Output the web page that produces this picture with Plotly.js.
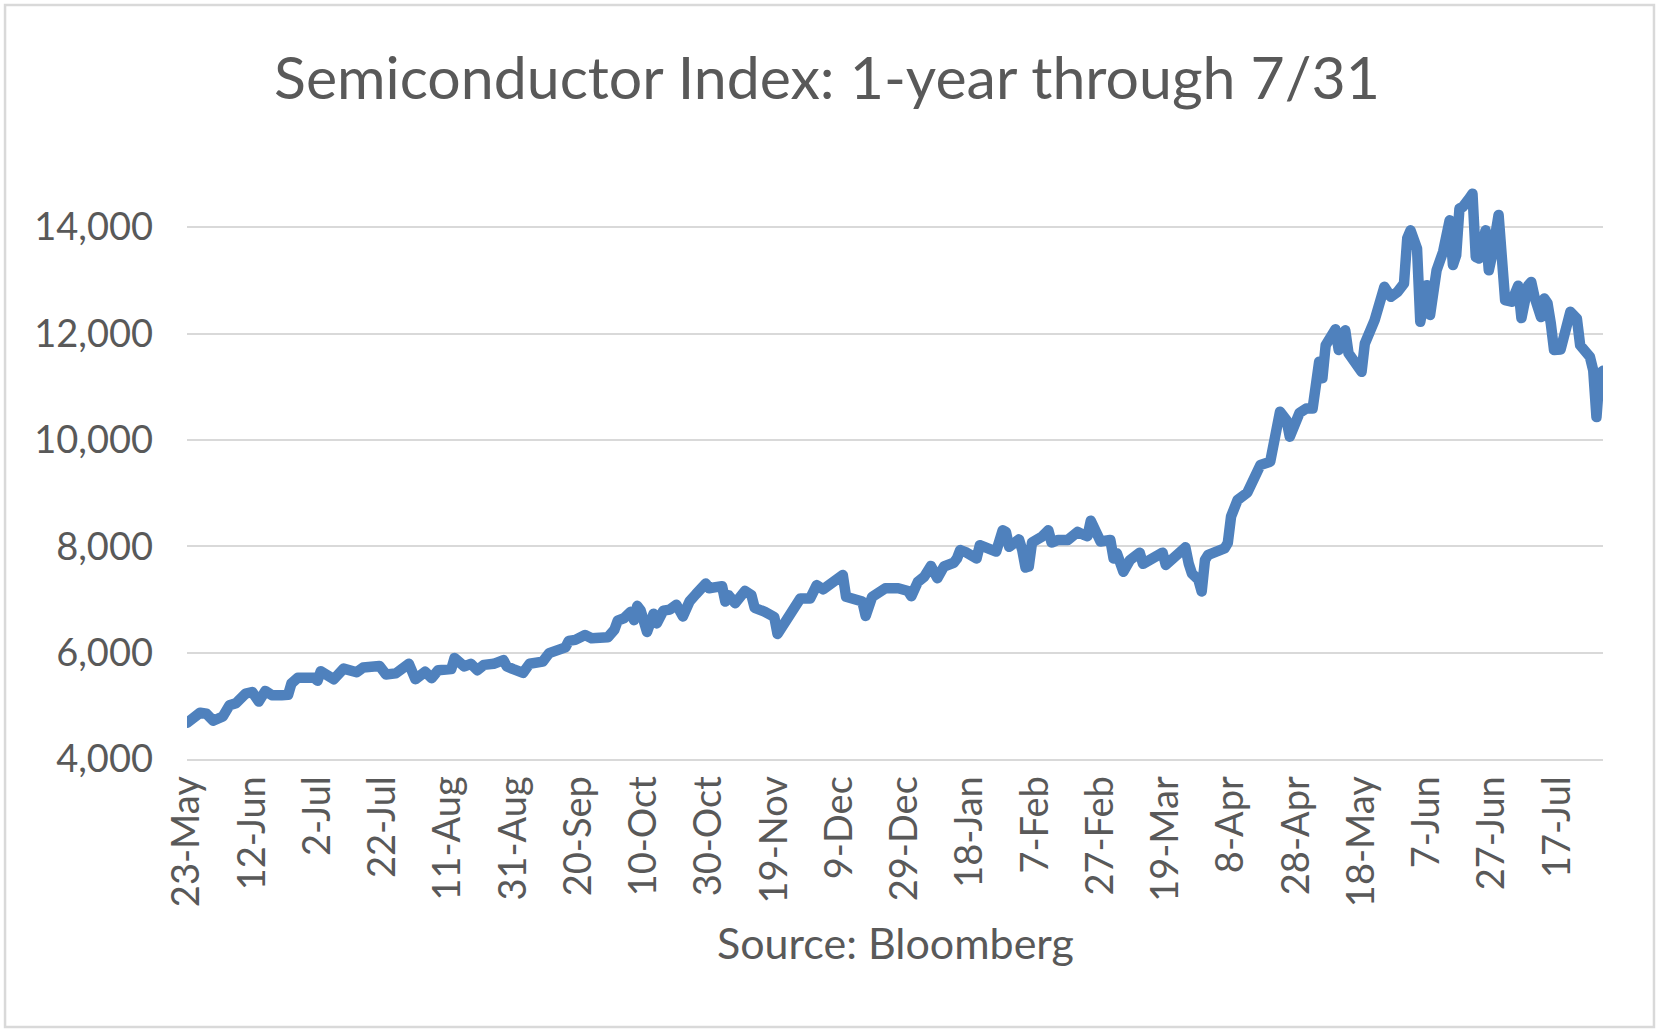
<!DOCTYPE html>
<html>
<head>
<meta charset="utf-8">
<script src="https://cdn.plot.ly/plotly-3.0.1.min.js"></script>
<style>
  html, body { margin: 0; padding: 0; background: #ffffff; }
  #chart { width: 1659px; height: 1035px; }
  path.js-line { stroke-linejoin: round !important; stroke-linecap: round !important; }
</style>
</head>
<body>
<div id="chart"></div>
<script>
// ---- Data ----
const chartTitle = "Semiconductor Index: 1-year through 7/31";
const sourceLabel = "Source: Bloomberg";

const dates = [
  "2022-05-23","2022-05-27","2022-05-29","2022-05-31","2022-06-03","2022-06-05","2022-06-07","2022-06-10",
  "2022-06-12","2022-06-14","2022-06-16","2022-06-18","2022-06-21","2022-06-23","2022-06-24","2022-06-26",
  "2022-07-01","2022-07-02","2022-07-03","2022-07-07","2022-07-10","2022-07-14","2022-07-16","2022-07-18",
  "2022-07-21","2022-07-23","2022-07-26","2022-07-30","2022-08-01","2022-08-04","2022-08-06","2022-08-08",
  "2022-08-12","2022-08-13","2022-08-16","2022-08-18","2022-08-20","2022-08-22","2022-08-25","2022-08-28",
  "2022-08-29","2022-08-31","2022-09-03","2022-09-05","2022-09-09","2022-09-11","2022-09-16","2022-09-17",
  "2022-09-19","2022-09-22","2022-09-24","2022-09-29","2022-10-01","2022-10-02","2022-10-04","2022-10-06",
  "2022-10-07","2022-10-08","2022-10-09","2022-10-11","2022-10-12","2022-10-13","2022-10-14","2022-10-16",
  "2022-10-18","2022-10-20","2022-10-22","2022-10-24","2022-10-26","2022-10-29","2022-10-30","2022-11-03",
  "2022-11-04","2022-11-05","2022-11-07","2022-11-10","2022-11-12","2022-11-13","2022-11-16","2022-11-19",
  "2022-11-20","2022-11-23","2022-11-25","2022-11-27","2022-11-30","2022-12-02","2022-12-04","2022-12-07",
  "2022-12-10","2022-12-11","2022-12-14","2022-12-16","2022-12-17","2022-12-19","2022-12-23","2022-12-27",
  "2022-12-30","2022-12-31","2023-01-02","2023-01-04","2023-01-06","2023-01-07","2023-01-08","2023-01-10",
  "2023-01-13","2023-01-14","2023-01-15","2023-01-17","2023-01-20","2023-01-21","2023-01-24","2023-01-26",
  "2023-01-28","2023-01-29","2023-01-30","2023-02-02","2023-02-03","2023-02-04","2023-02-05","2023-02-06",
  "2023-02-09","2023-02-11","2023-02-12","2023-02-14","2023-02-17","2023-02-18","2023-02-20","2023-02-22",
  "2023-02-23","2023-02-24","2023-02-25","2023-02-27","2023-03-02","2023-03-03","2023-03-04","2023-03-06",
  "2023-03-08","2023-03-11","2023-03-12","2023-03-14","2023-03-16","2023-03-18","2023-03-19","2023-03-22",
  "2023-03-25","2023-03-26","2023-03-27","2023-03-29","2023-03-30","2023-03-31","2023-04-01","2023-04-06",
  "2023-04-07","2023-04-08","2023-04-10","2023-04-13","2023-04-14","2023-04-15","2023-04-17","2023-04-20",
  "2023-04-21","2023-04-23","2023-04-25","2023-04-26","2023-04-29","2023-05-01","2023-05-03","2023-05-04",
  "2023-05-05","2023-05-06","2023-05-07","2023-05-10","2023-05-11","2023-05-13","2023-05-14","2023-05-18",
  "2023-05-19","2023-05-22","2023-05-25","2023-05-27","2023-05-29","2023-05-31","2023-06-01","2023-06-02",
  "2023-06-04","2023-06-05","2023-06-06","2023-06-07","2023-06-08","2023-06-10","2023-06-12","2023-06-14",
  "2023-06-15","2023-06-16","2023-06-17","2023-06-18","2023-06-20","2023-06-21","2023-06-22","2023-06-23",
  "2023-06-25","2023-06-26","2023-06-27","2023-06-29","2023-07-01","2023-07-03","2023-07-05","2023-07-06",
  "2023-07-08","2023-07-09","2023-07-10","2023-07-12","2023-07-13","2023-07-14","2023-07-15","2023-07-16",
  "2023-07-18","2023-07-20","2023-07-21","2023-07-23","2023-07-24","2023-07-27","2023-07-28","2023-07-29",
  "2023-07-30","2023-07-31"
];

const indexValues = [
  4680,4870,4850,4720,4800,5010,5050,5230,
  5260,5080,5280,5200,5200,5210,5420,5530,
  5530,5470,5650,5500,5700,5630,5720,5750,
  5750,5590,5610,5790,5500,5640,5520,5670,
  5690,5900,5740,5790,5670,5770,5790,5860,
  5740,5690,5620,5790,5830,5990,6100,6220,
  6240,6330,6270,6290,6430,6600,6650,6770,
  6610,6880,6800,6390,6650,6730,6550,6790,
  6810,6900,6680,6960,7100,7300,7210,7250,
  6960,7080,6930,7160,7080,6840,6770,6670,
  6350,6680,6830,7020,7020,7270,7190,7300,
  7460,7050,7020,6960,6690,7050,7210,7210,
  7160,7060,7330,7430,7630,7520,7400,7620,
  7690,7770,7930,7880,7770,8020,7930,7900,
  8300,8270,7990,8130,7930,7600,7620,8070,
  8180,8300,8070,8120,8120,8190,8270,8210,
  8190,8480,8370,8090,8120,7770,7870,7520,
  7740,7880,7670,7740,7800,7880,7650,7800,
  7980,7680,7490,7370,7150,7740,7840,7960,
  8060,8560,8870,9010,9150,9260,9530,9590,
  9870,10530,10370,10060,10510,10590,10590,11120,
  11470,11160,11780,12080,11690,12060,11630,11280,
  11810,12250,12880,12690,12780,12940,13790,13940,
  13600,12220,12570,12910,12350,13190,13540,14130,
  13290,13470,14350,14380,14540,14630,13440,13410,
  13940,13190,13470,14230,12630,12600,12900,12290,
  12900,12970,12690,12310,12660,12570,12190,11690,
  11700,12310,12410,12280,11780,11560,11310,10430,
  11250,11300
];

const xStart = "2022-05-23";
const xEnd = "2023-07-31";
const yTickValues = [4000, 6000, 8000, 10000, 12000, 14000];

// ---- Chart ----
const FONT = "Lato, 'Open Sans', 'Liberation Sans', sans-serif";
const TEXT_COLOR = "#595959";
const GRID = "#d9d9d9";
const DAY_MS = 86400000;

const trace = {
  type: "scatter",
  mode: "lines",
  x: dates,
  y: indexValues,
  line: { color: "#4F81BD", width: 10.5 },
  hoverinfo: "x+y"
};

const layout = {
  width: 1659,
  height: 1035,
  paper_bgcolor: "#ffffff",
  plot_bgcolor: "#ffffff",
  showlegend: false,
  margin: { l: 187, r: 56, t: 174, b: 276, pad: 0 },
  font: { family: FONT, color: TEXT_COLOR },
  title: {
    text: chartTitle,
    font: { family: FONT, size: 59, color: TEXT_COLOR },
    x: 0.4985, xanchor: "center", xref: "container",
    y: 0.924, yanchor: "middle", yref: "container"
  },
  xaxis: {
    type: "date",
    range: [xStart, xEnd],
    tick0: xStart,
    dtick: 20 * DAY_MS,
    tickformat: "%-d-%b",
    tickangle: -90,
    ticks: "",
    ticklabelstandoff: 0,
    tickfont: { family: FONT, size: 38, color: TEXT_COLOR },
    showgrid: false,
    showline: true,
    linecolor: GRID,
    linewidth: 2,
    zeroline: false,
    fixedrange: true
  },
  yaxis: {
    range: [4000, 15000],
    tickmode: "array",
    tickvals: yTickValues,
    tickformat: ",d",
    ticks: "",
    ticklabelstandoff: 33,
    tickfont: { family: FONT, size: 38, color: TEXT_COLOR },
    showgrid: true,
    gridcolor: GRID,
    gridwidth: 2,
    showline: false,
    zeroline: false,
    fixedrange: true
  },
  annotations: [{
    text: sourceLabel,
    xref: "paper", yref: "paper",
    x: 0.5, y: -0.313,
    xanchor: "center", yanchor: "middle",
    showarrow: false,
    font: { family: FONT, size: 43, color: TEXT_COLOR }
  }],
  shapes: [{
    type: "rect",
    xref: "paper", yref: "paper",
    x0: -0.1285, x1: 1.036, y0: -0.458, y1: 1.289,
    line: { color: GRID, width: 2.5 },
    fillcolor: "rgba(0,0,0,0)",
    layer: "below"
  }]
};

Plotly.newPlot("chart", [trace], layout, { displayModeBar: false, staticPlot: true });
</script>
</body>
</html>
